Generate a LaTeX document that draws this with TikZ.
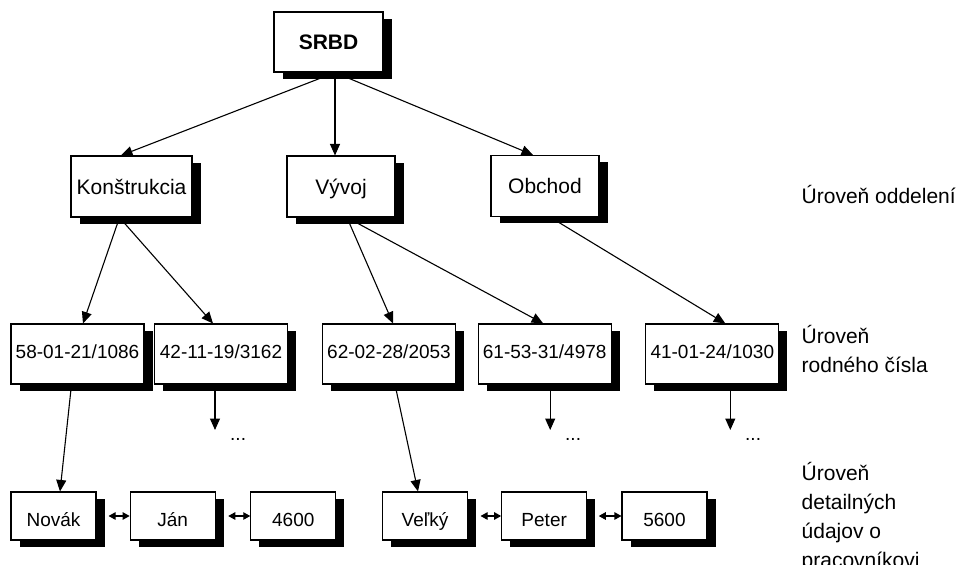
\documentclass[tikz,border=0pt]{standalone}
\usepackage{fontspec}
\setmainfont{Liberation Sans}
\usetikzlibrary{arrows.meta,shadows,calc}

\begin{document}
\begin{tikzpicture}[x=1pt,y=-1pt,
  box/.style={draw=black, line width=1.1pt, fill=white, inner sep=0pt,
    drop shadow={shadow xshift=8.5pt, shadow yshift=-6.5pt, fill=black, opacity=1}},
  topbox/.style={box, minimum width=109pt, minimum height=60pt,
    font=\fontsize{21}{25}\selectfont\bfseries, text height=15pt, text depth=0pt},
  deptbox/.style={box, minimum width=#1pt, minimum height=61pt,
    font=\fontsize{21}{25}\selectfont, text height=15pt, text depth=0pt},
  idbox/.style={box, minimum width=133pt, minimum height=60pt,
    font=\fontsize{19}{23}\selectfont, text height=13.6pt, text depth=5.5pt},
  detbox/.style={box, minimum width=85pt, minimum height=48pt,
    font=\fontsize{19}{23}\selectfont, text height=21.6pt, text depth=0pt},
  arr/.style={line width=1.1pt, -{Triangle[length=11.5pt,width=10pt]}},
  dbl/.style={line width=1.1pt, {Triangle[length=7pt,width=7.5pt]}-{Triangle[length=7pt,width=7.5pt]}},
  lvl/.style={anchor=base west, inner sep=0pt, font=\fontsize{21}{25}\selectfont},
  more/.style={anchor=base west, inner sep=0pt, font=\fontsize{19}{23}\selectfont}
]
\clip (0,0) rectangle (962,565);

% root
\node[topbox] (srbd) at (328.5,42) {SRBD};

% departments
\node[deptbox=121] (kon) at (131.5,186.5) {Konštrukcia};
\node[deptbox=108] (viv) at (341,186.5) {Vývoj};
\node[deptbox=108] (obc) at (545,186) {Obchod};

% birth numbers
\node[idbox] (a1) at (77.5,354) {58-01-21/1086};
\node[idbox] (a2) at (221,354) {42-11-19/3162};
\node[idbox] (a3) at (389,354) {62-02-28/2053};
\node[idbox] (a4) at (544.7,354) {61-53-31/4978};
\node[idbox] (a5) at (712.3,354) {41-01-24/1030};

% employee details
\node[detbox] (novak) at (53.5,516) {Novák};
\node[detbox] (jan) at (172.7,516) {Ján};
\node[detbox] (n4600) at (293.3,516) {4600};
\node[detbox] (velky) at (425,516) {Veľký};
\node[detbox] (peter) at (544.2,516) {Peter};
\node[detbox] (n5600) at (664.5,516) {5600};

% continuation marks
\coordinate (e1) at (215,430);
\coordinate (e2) at (550.2,430);
\coordinate (e3) at (730.3,430);
\node[more] (m1) at (230,440) {...};
\node[more] (m2) at (565,440) {...};
\node[more] (m3) at (745,440) {...};

% tree connectors
\draw[arr] ($(srbd.south)+(6.5,0)$) -- ($(kon.north)+(-10.5,0)$);
\draw[arr] ($(srbd.south)+(6.5,0)$) -- ($(viv.north)+(-6,0)$);
\draw[arr] ($(srbd.south)+(6.5,0)$) -- ($(obc.north)+(-12,0)$);

\draw[arr] ($(kon.south)+(-12,0)$) -- ($(a1.north)+(5.5,0)$);
\draw[arr] ($(kon.south)+(-12,0)$) -- ($(a2.north)+(-8,0)$);
\draw[arr] ($(viv.south)+(6,0)$) -- ($(a3.north)+(4,0)$);
\draw[arr] ($(viv.south)+(6,0)$) -- ($(a4.north)+(-1.5,0)$);
\draw[arr] ($(obc.south)+(5,0)$) -- ($(a5.north)+(13,0)$);

\draw[arr] ($(a1.south)+(-6,0)$) -- ($(novak.north)+(6.5,0)$);
\draw[arr] ($(a3.south)+(6,0)$) -- ($(velky.north)+(-7,0)$);
\draw[arr] (a2.south -| e1) -- (e1);
\draw[arr] (a4.south -| e2) -- (e2);
\draw[arr] (a5.south -| e3) -- (e3);

% links between detail records
\draw[dbl] ($(novak.east)+(12,0)$) -- (jan.west);
\draw[dbl] ($(jan.east)+(12.5,0)$) -- (n4600.west);
\draw[dbl] ($(velky.east)+(12.5,0)$) -- (peter.west);
\draw[dbl] ($(peter.east)+(11.5,0)$) -- (n5600.west);

% level captions
\node[lvl] (l1) at (801.5,203) {Úroveň oddelení};
\node[lvl] (l2a) at (801.5,343) {Úroveň};
\node[lvl] (l2b) at (801.5,372) {rodného čísla};
\node[lvl] (l3a) at (801.5,480) {Úroveň};
\node[lvl] (l3b) at (801.5,509) {detailných};
\node[lvl] (l3c) at (801.5,538) {údajov o};
\node[lvl] (l3d) at (801.5,567) {pracovníkovi};
\end{tikzpicture}
\end{document}
